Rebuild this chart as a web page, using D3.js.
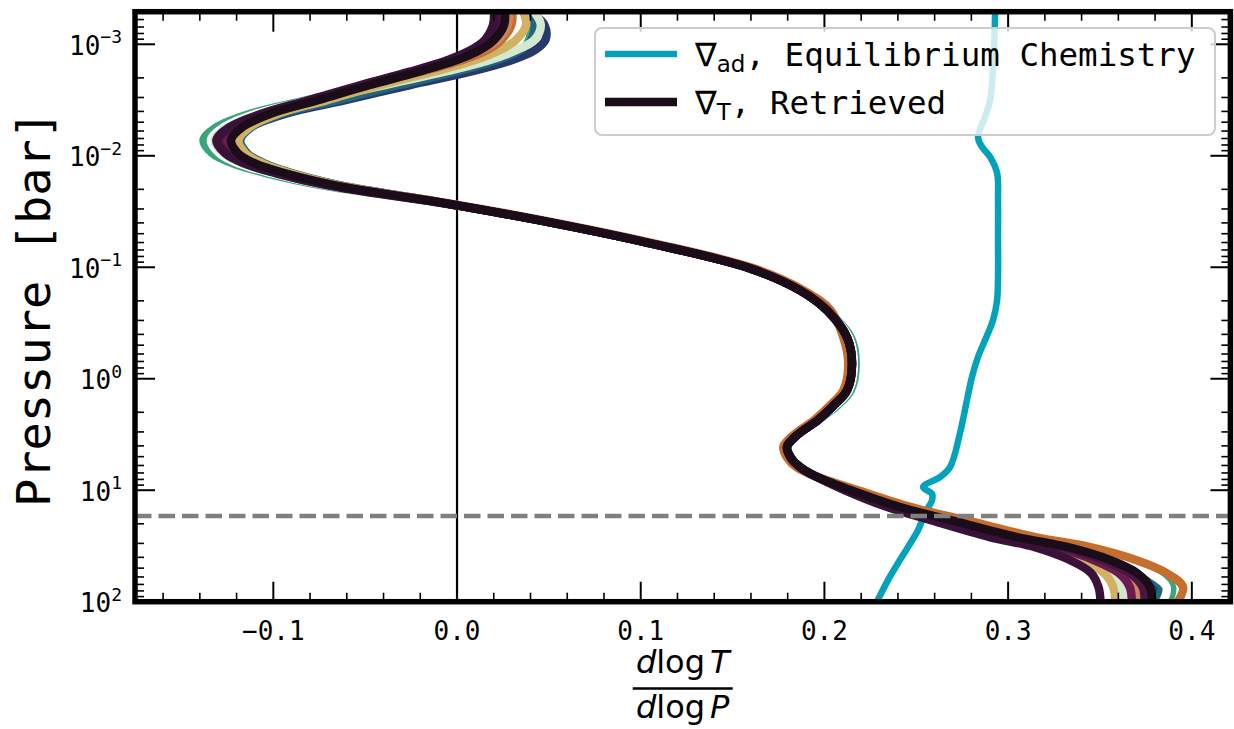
<!DOCTYPE html>
<html>
<head>
<meta charset="utf-8">
<script src="https://cdn.jsdelivr.net/npm/d3@7"></script>
<style>
  body { margin: 0; background: #ffffff; }
  svg { display: block; }
</style>
</head>
<body>
<svg id="chart" width="1234" height="729"></svg>
<script>
// Pressure levels (log10 of bar) where the retrieved gradient is sampled
const logPressure = [
  -3.29, -3.173, -3.039, -2.949, -2.859,
  -2.752, -2.635, -2.499, -2.381,
  -2.255, -2.139, -2.022, -1.932,
  -1.843, -1.735, -1.663, -1.600,
  -1.555, -1.403, -1.215, -0.990, -0.793, -0.614, -0.371, -0.138,
  0.104, 0.236, 0.370, 0.505, 0.612, 0.711, 0.792, 0.873,
  0.998, 1.151, 1.267, 1.420, 1.509, 1.626, 1.743, 1.868, 2.0
];

// Retrieved temperature gradient dlogT/dlogP (reference sample)
const gradRetrieved = [
  0.0261, 0.0256, 0.0201, 0.0125, 0.0000,
  -0.0212, -0.0474, -0.0757, -0.1007,
  -0.1170, -0.1230, -0.1192, -0.1100,
  -0.0936, -0.0664, -0.0408, -0.0158,
  0.0000, 0.0506, 0.1051, 0.1595, 0.1867, 0.2014, 0.2123, 0.2150,
  0.2123, 0.2052, 0.1965, 0.1851, 0.1796, 0.1818, 0.1867, 0.1949,
  0.2139, 0.2412, 0.2684, 0.3048, 0.3321, 0.3555, 0.3702, 0.3772, 0.3783
];

// Other retrieved samples, given as departures from the reference sample
const sampleColors = [
  "#27386b", "#1f6779", "#3aa57b", "#ffffff", "#d6e7cf", "#d2b262",
  "#c66f2d", "#c98564", "#6b1b4f", "#4a1540", "#3a1239"
];
const sampleDeltas = [
  [0.014,0.022,0.028,0.030,0.030, 0.028,0.022,0.015,0.008, 0.004,0.002,0.002,0.003, 0.003,0.002,0.002,0.001,
   0,0,0,0,0,0,0,0, 0,0,0,0,0,0,0,0,
   0.000,0.001,0.001,0.002,0.002,0.003,0.003,0.003,0.002],
  [0.010,0.016,0.020,0.022,0.022, 0.020,0.016,0.011,0.006, 0.005,0.005,0.005,0.005, 0.004,0.003,0.002,0.001,
   0,0,0,0,0,0,0,0, 0,0,0,0,0,0,0,0,
   0.001,0.002,0.003,0.004,0.004,0.004,0.004,0.006,0.003],
  [0.008,0.012,0.015,0.016,0.016, 0.010,0.002,-0.006,-0.011, -0.014,-0.015,-0.014,-0.012, -0.010,-0.007,-0.004,-0.002,
   0,0,0,0,0,0,0.002,0.002, 0.002,0.002,0,0,0,0,0,0,
   0.002,0.004,0.006,0.008,0.010,0.011,0.011,0.012,0.009],
  [0.006,0.010,0.014,0.015,0.015, 0.009,0.002,-0.004,-0.008, -0.010,-0.011,-0.010,-0.009, -0.007,-0.005,-0.003,-0.001,
   0,0,0,0,0,0,0.001,0.001, 0.001,0.001,0,0,0,0,0,0,
   0.001,0.003,0.004,0.005,0.006,0.007,0.007,0.009,0.006],
  [0.016,0.020,0.022,0.020,0.018, 0.014,0.008,0.000,-0.005, -0.008,-0.009,-0.008,-0.007, -0.005,-0.003,-0.002,-0.001,
   0,0,0,0,0,0,0,0, 0,0,0,0,0,0,0,0,
   -0.002,-0.004,-0.006,-0.008,-0.010,-0.012,-0.014,-0.015,-0.016],
  [0.010,0.012,0.012,0.011,0.010, 0.008,0.006,0.005,0.004, 0.004,0.004,0.004,0.004, 0.003,0.002,0.001,0.000,
   0,0,0,0,0,0,0,0, 0,0,0,0,0,0,0,0,
   -0.003,-0.006,-0.009,-0.011,-0.013,-0.016,-0.018,-0.020,-0.020],
  [0.004,0.004,0.004,0.004,0.003, 0.001,-0.002,-0.003,-0.003, -0.002,-0.001,-0.001,-0.001, 0,0,0,0.001,
   0.002,0.002,0.002,0.002,0.002,0.002,-0.002,-0.002, -0.002,-0.002,-0.002,-0.002,-0.002,-0.002,-0.002,0,
   0.004,0.006,0.008,0.010,0.012,0.014,0.016,0.018,0.014],
  [0.002,0.002,0.002,0.001,0.001, 0,-0.001,-0.001,-0.001, -0.001,-0.001,-0.001,-0.001, 0,0,0,0,
   0,0,0,0,0,0,0,0, 0,0,0,0,0,0,0,0,
   -0.001,-0.002,-0.003,-0.004,-0.005,-0.006,-0.006,-0.007,-0.007],
  [-0.002,-0.002,-0.003,-0.003,-0.003, -0.003,-0.003,-0.002,-0.002, -0.004,-0.004,-0.004,-0.003, -0.003,-0.002,-0.001,0,
   0,0,0,0,0,0,0,0, 0,0,0,0,0,0,0,0,
   -0.001,-0.002,-0.004,-0.006,-0.007,-0.009,-0.010,-0.011,-0.011],
  [-0.004,-0.004,-0.004,-0.004,-0.004, -0.004,-0.004,-0.003,-0.003, -0.006,-0.007,-0.006,-0.005, -0.004,-0.003,-0.002,-0.001,
   0,0,0,0,0,0,0,0, 0,0,0,0,0,0,0,0,
   0,-0.001,-0.002,-0.003,-0.003,-0.004,-0.004,-0.004,-0.004],
  [-0.006,-0.006,-0.005,-0.005,-0.005, -0.005,-0.005,-0.005,-0.005, -0.007,-0.008,-0.007,-0.006, -0.005,-0.004,-0.003,-0.002,
   0,0,0,0,0,0,0,0, 0,0,0,0,0,0,0,0,
   -0.003,-0.007,-0.011,-0.015,-0.018,-0.022,-0.025,-0.028,-0.028]
];
const retrievedColor = "#1b0c1a";

// Adiabatic gradient from equilibrium chemistry
const adLogP = [
  -3.292, -2.949, -2.500, -2.348, -2.168, -2.079, -1.989, -1.845, -1.603, -1.307,
  -0.706, -0.527, -0.410, -0.195, -0.015, 0.191, 0.487, 0.792, 0.882, 0.971,
  1.034, 1.088, 1.205, 1.357, 1.510, 1.653, 1.806, 2.0
];
const adGrad = [
  0.2929, 0.2923, 0.2902, 0.2874, 0.2836, 0.2858, 0.2902, 0.2940, 0.2945, 0.2945,
  0.2940, 0.2918, 0.2891, 0.2836, 0.2803, 0.2776, 0.2738, 0.2684, 0.2629, 0.2537,
  0.2586, 0.2586, 0.2548, 0.2510, 0.2455, 0.2401, 0.2346, 0.2286
];
const adColor = "#01a2ba";

// Axis ticks and labels
const xTicks = [-0.1, 0.0, 0.1, 0.2, 0.3, 0.4];
const xTickLabels = ["\u22120.1", "0.0", "0.1", "0.2", "0.3", "0.4"];
const yTickExp = [-3, -2, -1, 0, 1, 2];
const yTickSup = ["\u22123", "\u22122", "\u22121", "0", "1", "2"];
const boundaryPressure = 17;

const legendLabels = [
  { sym: "\u2207", sub: "ad", text: ", Equilibrium Chemistry", color: adColor, width: 6.5 },
  { sym: "\u2207", sub: "T", text: ", Retrieved", color: retrievedColor, width: 8.5 }
];

// ---------- layout ----------
const L = 135, R = 1230.4, T = 11.7, B = 601.7;
const mono = "'DejaVu Sans Mono', monospace";
const sans = "'DejaVu Sans', sans-serif";

const svg = d3.select("#chart");
const x = d3.scaleLinear().domain([-0.1753, 0.4210]).range([L, R]);
const y = d3.scaleLog().domain([Math.pow(10, -3.2924), 100]).range([T, B]);

svg.append("defs").append("clipPath").attr("id", "plotclip")
  .append("rect").attr("x", L).attr("y", T).attr("width", R - L).attr("height", B - T);

const plot = svg.append("g").attr("clip-path", "url(#plotclip)");

// zero gradient reference line
plot.append("line")
  .attr("x1", x(0)).attr("x2", x(0)).attr("y1", T).attr("y2", B)
  .attr("stroke", "#000").attr("stroke-width", 2.2);

const line = d3.line()
  .x(d => x(d.v))
  .y(d => y(Math.pow(10, d.lp)))
  .curve(d3.curveCatmullRom.alpha(0.5));

// adiabatic gradient
plot.append("path")
  .datum(adLogP.map((lp, i) => ({ lp, v: adGrad[i] })))
  .attr("d", line)
  .attr("fill", "none").attr("stroke", adColor).attr("stroke-width", 6.5)
  .attr("stroke-linejoin", "round");

// retrieved samples
sampleDeltas.forEach((delta, k) => {
  plot.append("path")
    .datum(logPressure.map((lp, j) => ({ lp, v: gradRetrieved[j] + delta[j] })))
    .attr("d", line)
    .attr("fill", "none").attr("stroke", sampleColors[k]).attr("stroke-width", 8.5)
    .attr("stroke-linejoin", "round");
});
plot.append("path")
  .datum(logPressure.map((lp, j) => ({ lp, v: gradRetrieved[j] })))
  .attr("d", line)
  .attr("fill", "none").attr("stroke", retrievedColor).attr("stroke-width", 8.5)
  .attr("stroke-linejoin", "round");

// radiative-convective boundary
plot.append("line")
  .attr("x1", L).attr("x2", R)
  .attr("y1", y(boundaryPressure)).attr("y2", y(boundaryPressure))
  .attr("stroke", "#808080").attr("stroke-width", 4.5)
  .attr("stroke-dasharray", "16.5,7");

// ---------- ticks (inward, all four sides) ----------
const ticks = svg.append("g").attr("stroke", "#000");
const MAJ = 20, MIN = 9;
const xMinor = d3.range(-16, 43, 2).filter(i => i % 10 !== 0).map(i => i / 100)
  .filter(v => v > x.domain()[0] && v < x.domain()[1]);
xTicks.forEach(v => {
  ticks.append("line").attr("x1", x(v)).attr("x2", x(v)).attr("y1", B).attr("y2", B - MAJ).attr("stroke-width", 2);
  ticks.append("line").attr("x1", x(v)).attr("x2", x(v)).attr("y1", T).attr("y2", T + MAJ).attr("stroke-width", 2);
});
xMinor.forEach(v => {
  ticks.append("line").attr("x1", x(v)).attr("x2", x(v)).attr("y1", B).attr("y2", B - MIN).attr("stroke-width", 1.6);
  ticks.append("line").attr("x1", x(v)).attr("x2", x(v)).attr("y1", T).attr("y2", T + MIN).attr("stroke-width", 1.6);
});
yTickExp.forEach(e => {
  const p = y(Math.pow(10, e));
  ticks.append("line").attr("x1", L).attr("x2", L + MAJ).attr("y1", p).attr("y2", p).attr("stroke-width", 2);
  ticks.append("line").attr("x1", R).attr("x2", R - MAJ).attr("y1", p).attr("y2", p).attr("stroke-width", 2);
});
const yMinor = [];
for (let e = -4; e <= 1; e++) for (let k = 2; k <= 9; k++) {
  const v = k * Math.pow(10, e);
  if (v > y.domain()[0] && v < y.domain()[1]) yMinor.push(v);
}
yMinor.forEach(v => {
  const p = y(v);
  ticks.append("line").attr("x1", L).attr("x2", L + MIN).attr("y1", p).attr("y2", p).attr("stroke-width", 1.6);
  ticks.append("line").attr("x1", R).attr("x2", R - MIN).attr("y1", p).attr("y2", p).attr("stroke-width", 1.6);
});

// tick labels
xTicks.forEach((v, i) => {
  svg.append("text")
    .attr("x", x(v)).attr("y", 640)
    .attr("text-anchor", "middle")
    .attr("font-family", mono).attr("font-size", 26)
    .text(xTickLabels[i]);
});
yTickExp.forEach((e, i) => {
  const p = y(Math.pow(10, e));
  const t = svg.append("text")
    .attr("x", 122).attr("y", p + 10.7)
    .attr("text-anchor", "end")
    .attr("font-family", mono).attr("font-size", 26);
  t.append("tspan").text("10");
  t.append("tspan").attr("dy", -11.7).attr("font-size", 18).text(yTickSup[i]);
});

// axis titles
svg.append("text")
  .attr("transform", "translate(50,309) rotate(-90)")
  .attr("text-anchor", "middle")
  .attr("font-family", mono).attr("font-size", 47)
  .text("Pressure [bar]");

const cx = (L + R) / 2;
const num = svg.append("text").attr("x", cx).attr("y", 673).attr("text-anchor", "middle")
  .attr("font-family", sans).attr("font-size", 32);
num.append("tspan").attr("font-style", "italic").text("d");
num.append("tspan").text("log");
num.append("tspan").attr("dx", 5).attr("font-style", "italic").text("T");
svg.append("line").attr("x1", cx - 50).attr("x2", cx + 50).attr("y1", 688.5).attr("y2", 688.5)
  .attr("stroke", "#000").attr("stroke-width", 2.5);
const den = svg.append("text").attr("x", cx).attr("y", 718).attr("text-anchor", "middle")
  .attr("font-family", sans).attr("font-size", 32);
den.append("tspan").attr("font-style", "italic").text("d");
den.append("tspan").text("log");
den.append("tspan").attr("dx", 5).attr("font-style", "italic").text("P");

// ---------- legend ----------
const lg = svg.append("g");
lg.append("rect")
  .attr("x", 595).attr("y", 28).attr("width", 620).attr("height", 107).attr("rx", 7)
  .attr("fill", "#ffffff").attr("fill-opacity", 0.8)
  .attr("stroke", "#cccccc").attr("stroke-width", 2);
legendLabels.forEach((d, i) => {
  const cy = 54 + i * 48;
  lg.append("line").attr("x1", 605).attr("x2", 677).attr("y1", cy).attr("y2", cy)
    .attr("stroke", d.color).attr("stroke-width", d.width);
  const t = lg.append("text").attr("x", 695).attr("y", cy + 11.5)
    .attr("font-family", mono).attr("font-size", 32.5);
  t.append("tspan").attr("font-family", sans).text(d.sym);
  t.append("tspan").attr("font-family", sans).attr("font-size", 23).attr("dy", 6).text(d.sub);
  t.append("tspan").attr("dy", -6).text(d.text);
});

// ---------- frame ----------
svg.append("rect")
  .attr("x", L).attr("y", T).attr("width", R - L).attr("height", B - T)
  .attr("fill", "none").attr("stroke", "#000").attr("stroke-width", 5.5);
</script>
</body>
</html>
